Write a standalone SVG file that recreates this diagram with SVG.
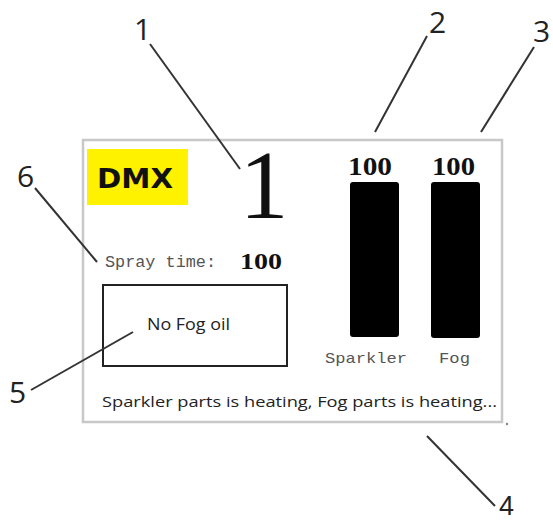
<svg xmlns="http://www.w3.org/2000/svg" width="553" height="524" viewBox="0 0 553 524">
<style>
.lbl{font-family:"Open Sans","Liberation Sans",sans-serif;font-size:30px;fill:#222}
.lead{stroke:#333;stroke-width:2;fill:none}
.mono{font-family:"Liberation Mono","DejaVu Sans Mono",monospace;fill:#555}
.serifb{font-family:"Liberation Serif","DejaVu Serif",serif;font-weight:bold;fill:#111}
.sans{font-family:"Open Sans","Liberation Sans",sans-serif;fill:#222}
.bar{fill:#000}
</style>
<rect width="553" height="524" fill="#fff"/>
<g id="panel">
<rect x="83" y="140" width="419" height="282" fill="#fff" stroke="#c8c8c8" stroke-width="2.5"/>
<circle cx="507" cy="424" r="1.2" fill="#888"/>
</g>
<g id="dmx">
<rect x="87" y="149" width="101" height="56" fill="#fff200"/>
<text x="97" y="188" font-family="DejaVu Sans,Liberation Sans,sans-serif" font-weight="bold" font-size="26" fill="#111" textLength="76" lengthAdjust="spacingAndGlyphs">DMX</text>
</g>
<g id="channel">
<text x="264" y="218" text-anchor="middle" font-family="Liberation Serif,serif" font-size="98" fill="#111">1</text>
</g>
<g id="spray">
<text class="mono" x="105" y="267" font-size="16" textLength="111" lengthAdjust="spacingAndGlyphs">Spray time:</text>
<text class="serifb" x="240" y="269" font-size="23" textLength="42" lengthAdjust="spacingAndGlyphs">100</text>
</g>
<g id="sparkler">
<text class="serifb" x="348" y="175" font-size="26" textLength="44" lengthAdjust="spacingAndGlyphs">100</text>
<rect class="bar" x="350" y="182" width="49" height="155" rx="3"/>
<text class="mono" x="325" y="363" font-size="15" textLength="82" lengthAdjust="spacingAndGlyphs">Sparkler</text>
</g>
<g id="fog">
<text class="serifb" x="432" y="175" font-size="26" textLength="43" lengthAdjust="spacingAndGlyphs">100</text>
<rect class="bar" x="431" y="182" width="49" height="156" rx="3"/>
<text class="mono" x="439" y="363" font-size="15" textLength="31" lengthAdjust="spacingAndGlyphs">Fog</text>
</g>
<g id="warning">
<rect x="103" y="285" width="184" height="81" fill="#fff" stroke="#222" stroke-width="2"/>
<text class="sans" x="147" y="330" font-size="16" textLength="83" lengthAdjust="spacingAndGlyphs">No Fog oil</text>
</g>
<g id="status">
<text class="sans" x="102" y="407" font-size="15" textLength="395" lengthAdjust="spacingAndGlyphs">Sparkler parts is heating, Fog parts is heating...</text>
</g>
<g id="connectors">
<line class="lead" x1="150" y1="44" x2="240" y2="169"/>
<line class="lead" x1="427" y1="36" x2="375" y2="132"/>
<line class="lead" x1="534" y1="47" x2="481" y2="132"/>
<line class="lead" x1="35" y1="188" x2="97" y2="262"/>
<line class="lead" x1="31" y1="390" x2="133" y2="332"/>
<line class="lead" x1="427" y1="436" x2="495" y2="506"/>
</g>
<g id="labels">
<text class="lbl" x="134" y="40">1</text>
<text class="lbl" x="429" y="33">2</text>
<text class="lbl" x="533" y="42">3</text>
<text class="lbl" x="17" y="187">6</text>
<text class="lbl" x="9" y="403">5</text>
<text x="499" y="515" font-family="Liberation Sans,sans-serif" font-size="27" fill="#222">4</text>
</g>
</svg>
